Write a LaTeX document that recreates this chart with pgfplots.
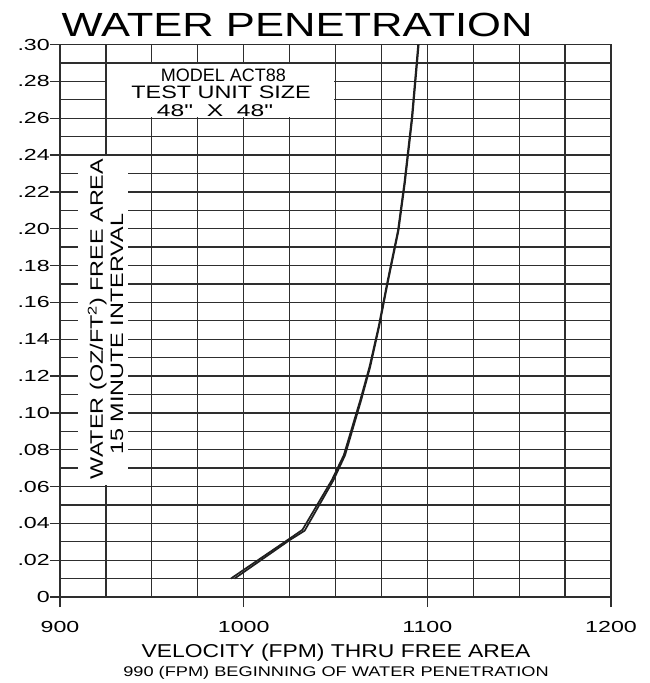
\documentclass[border=0pt]{standalone}
\usepackage{fontspec}
\setmainfont{Liberation Sans}
\newfontfamily\cad{Liberation Sans}[FakeStretch=1.3]
\newfontfamily\cadx{Liberation Sans}[FakeStretch=1.23]
\newfontfamily\cadw{Liberation Sans}[FakeStretch=1.45]
\usepackage{pgfplots}
\pgfplotsset{compat=1.18}

\definecolor{gridc}{gray}{0.18}
\definecolor{curvec}{gray}{0.12}

\begin{document}
\begin{tikzpicture}[x=1bp,y=1bp]
\useasboundingbox (0,0) rectangle (650,683);
\begin{axis}[
    at={(60bp,86bp)}, anchor=south west,
    scale only axis, width=551bp, height=552.4bp,
    xmin=900, xmax=1200, ymin=0, ymax=0.30,
    xtick={900,1000,1100,1200},
    xticklabels={900,1000,1100,1200},
    minor xtick={925,950,975,1025,1050,1075,1125,1150,1175},
    ytick={0,0.02,0.04,0.06,0.08,0.10,0.12,0.14,0.16,0.18,0.20,0.22,0.24,0.26,0.28,0.30},
    yticklabels={0,.02,.04,.06,.08,.10,.12,.14,.16,.18,.20,.22,.24,.26,.28,.30},
    minor ytick={0.01,0.03,0.05,0.07,0.09,0.11,0.13,0.15,0.17,0.19,0.21,0.23,0.25,0.27,0.29},
    grid=both,
    major grid style={line width=1.3bp, gridc},
    minor grid style={line width=1.3bp, gridc},
    axis line style={line width=1.3bp, gridc},
    tick style={line width=1.3bp, gridc},
    tick align=outside, tick pos=left,
    major tick length=10bp, minor tick length=0pt,
    ticklabel style={font=\cadw\fontsize{16bp}{16bp}\selectfont},
    yticklabel style={anchor=east, inner sep=0pt},
    xticklabel style={anchor=base, inner sep=0pt, yshift=-25bp},
]

% white panel behind the y label
\fill[white] (axis cs:909.8,0.0606) rectangle (axis cs:937.2,0.2394);
% white panel behind the model note
\fill[white] (axis cs:925.6,0.2606) rectangle (axis cs:1049.4,0.2894);

% measured curve, drawn as a doubled stroke
\addplot[curvec, line width=1.7bp, no marks] coordinates {
(993,0.010) (1024,0.031) (1032,0.0365) (1048,0.0635) (1054.5,0.077)
(1063.5,0.107) (1068.5,0.125) (1073.5,0.147) (1078,0.170) (1084,0.199)
(1087.5,0.225) (1091.5,0.260) (1095,0.300)
};
\addplot[curvec, line width=1.7bp, no marks] coordinates {
(995,0.010) (1025.2,0.031) (1033.2,0.036) (1048.9,0.0635) (1055.2,0.077)
(1064,0.107) (1068.9,0.125) (1073.8,0.147) (1078.3,0.170) (1084.3,0.199)
(1087.8,0.225) (1091.8,0.260) (1095.3,0.300)
};

\node[anchor=base, font=\fontsize{18bp}{18bp}\selectfont] at (axis cs:989,0.2802) {MODEL ACT88};
\node[anchor=base, font=\cad\fontsize{18bp}{18bp}\selectfont] at (axis cs:987.7,0.2705) {TEST UNIT SIZE};
\node[anchor=base, font=\cadw\fontsize{17bp}{17bp}\selectfont] at (axis cs:984.4,0.2607) {48"\ \ X\ \ 48"};

\node[rotate=90, anchor=base, font=\cad\fontsize{18bp}{18bp}\selectfont] at (axis cs:923.4,0.151) {WATER (OZ/FT\textsuperscript{2}) FREE AREA};
\node[rotate=90, anchor=base, font=\cad\fontsize{18bp}{18bp}\selectfont] at (axis cs:934.3,0.1426) {15 MINUTE INTERVAL};
\end{axis}

\node[anchor=base, font=\cad\fontsize{33.5bp}{34bp}\selectfont] at (297,646) {WATER PENETRATION};
\node[anchor=base, font=\cadx\fontsize{18.6bp}{19bp}\selectfont] at (336,25) {VELOCITY (FPM) THRU FREE AREA};
\node[anchor=base, font=\cad\fontsize{14bp}{14bp}\selectfont] at (336,6) {990 (FPM) BEGINNING OF WATER PENETRATION};
\end{tikzpicture}
\end{document}
